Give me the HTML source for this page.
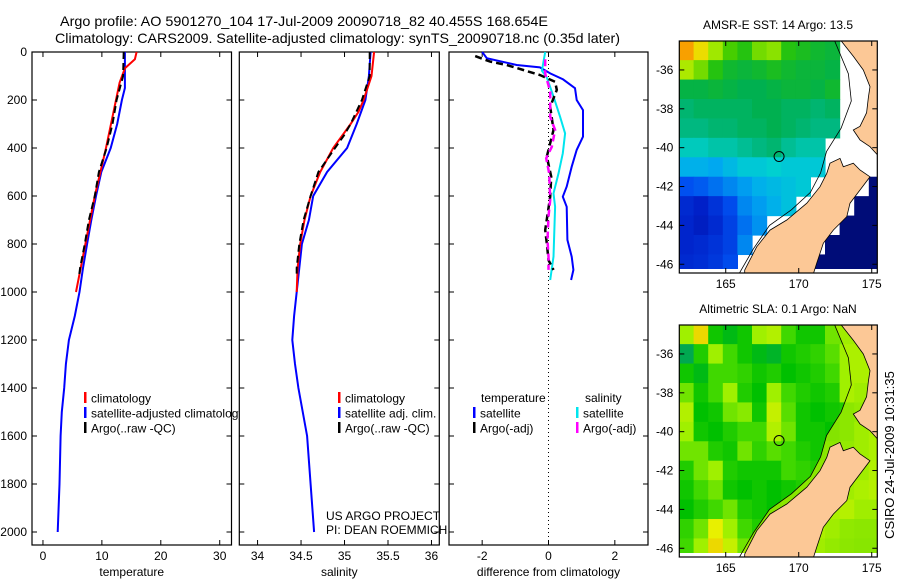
<!DOCTYPE html>
<html><head><meta charset="utf-8"><style>
html,body{margin:0;padding:0;background:#fff}
svg{display:block;font-family:"Liberation Sans",sans-serif}
</style></head><body>
<svg id="fig" width="900" height="580" viewBox="0 0 900 580" xmlns="http://www.w3.org/2000/svg">
<text x="60" y="26" font-size="14" textLength="488" lengthAdjust="spacingAndGlyphs">Argo profile: AO 5901270_104 17-Jul-2009 20090718_82 40.455S 168.654E</text>
<text x="55" y="43" font-size="14" textLength="565" lengthAdjust="spacingAndGlyphs">Climatology: CARS2009. Satellite-adjusted climatology: synTS_20090718.nc (0.35d later)</text>
<g id="plots"></g>
</svg>
<script>
// ---------- profile data ----------
const tClimDepth = [0,30,68,128,200,400,600,800,1000];
const tClimVal   = [15.9,15.6,13.9,13.0,12.4,10.7,8.8,7.2,5.6];
const tArgoDepth = [0,100,200,300,400,500,600,700,800,900,940];
const tArgoVal   = [13.7,13.6,12.5,11.8,10.8,9.5,8.8,7.8,7.1,6.3,6.1];
const tSatDepth  = [0,150,200,300,400,500,600,700,800,900,1000,1100,1200,1300,1400,1500,1600,1800,2000];
const tSatVal    = [13.9,13.9,13.4,12.6,11.5,9.9,9.0,8.2,7.5,6.8,6.2,5.4,4.4,3.9,3.6,3.2,3.0,2.8,2.5];

const sClimDepth = [0,100,200,250,300,400,500,600,700,800,900,1000];
const sClimVal   = [35.34,35.31,35.22,35.16,35.07,34.87,34.72,34.61,34.54,34.49,34.46,34.45];
const sArgoDepth = [0,100,200,300,350,400,500,600,700,800,900,940];
const sArgoVal   = [35.29,35.29,35.20,35.07,34.99,34.89,34.70,34.61,34.53,34.48,34.45,34.45];
const sSatDepth  = [0,100,200,300,400,500,600,700,800,900,1000,1100,1200,1300,1400,1600,1800,2000];
const sSatVal    = [35.30,35.28,35.24,35.14,35.03,34.80,34.64,34.59,34.51,34.48,34.45,34.42,34.40,34.43,34.47,34.57,34.61,34.65];

const dTSatDepth = [0,26,54,64,89,114,151,200,242,353,408,478,561,603,645,783,853,908,950];
const dTSatVal   = [-2.0,-1.86,-0.96,-0.26,0.05,0.44,0.8,0.85,1.04,1.04,0.85,0.7,0.55,0.43,0.55,0.57,0.7,0.75,0.68];
const dSSatDepth = [0,78,106,186,270,339,422,506,589,645,853,950];
const dSSatVal   = [-0.1,-0.2,-0.05,0.15,0.35,0.5,0.43,0.3,0.15,0.2,0.15,0.05];
const dTArgoDepth = [17,40,54,75,96,124,158,228,325,436,519,603,742,797,867,908];
const dTArgoVal   = [-2.21,-1.76,-1.26,-0.76,-0.26,0.2,0.25,0.05,0.15,-0.05,0.08,0.05,-0.1,-0.05,0.0,0.15];
const dSArgoDepth = [30,90,165,270,325,395,443,506,617,686,783,853,908];
const dSArgoVal   = [-0.1,-0.1,0.05,0.05,0.2,0.1,-0.07,0.02,0.05,0.0,-0.03,0.0,0.0];

const depthTicks = [0,200,400,600,800,1000,1200,1400,1600,1800,2000];
const tempTicks = [0,10,20,30];
const salTicks = [34,34.5,35,35.5,36];
const diffTicks = [-2,0,2];

// ---------- map data (1 degree cells, rows from north) ----------
const sstGrid = [
[16.8,16.2,15.4,15.0,14.8,15.2,15.3,14.8,14.7,14.6,14.5,null,null,15.8],
[15.5,15.2,14.8,14.6,14.5,14.6,14.7,14.6,14.5,14.5,14.4,null,null,null],
[14.4,14.4,14.5,14.4,14.3,14.3,14.4,14.5,14.5,14.4,14.6,null,null,null],
[14.1,14.2,14.2,14.2,14.2,14.3,14.3,14.2,14.2,14.1,14.2,null,null,null],
[14.0,14.0,14.1,14.1,14.2,14.2,14.3,14.2,14.1,14.0,14.0,null,null,null],
[13.7,13.7,13.8,13.8,13.9,14.0,14.1,13.9,13.8,13.8,null,null,null,null],
[13.2,13.2,13.1,13.3,13.5,13.5,13.6,13.5,13.5,13.5,null,null,null,null],
[12.3,12.4,12.6,12.8,13.0,13.2,13.3,13.4,13.5,null,null,null,null,10.2],
[11.5,11.3,11.7,12.2,12.8,13.0,13.2,13.4,null,null,null,null,10.2,10.2],
[11.4,11.2,11.5,12.0,12.6,12.9,null,null,null,null,null,10.2,10.2,10.2],
[11.4,11.5,11.7,12.0,12.8,null,null,null,null,null,10.2,10.2,10.2,10.2],
[11.5,11.6,11.8,12.2,null,null,null,null,null,10.2,10.2,10.2,10.2,10.2]
];
const slaGrid = [
[0.12,0.18,0.05,0.03,0.05,0.12,0.13,0.08,0.05,0.05,0.10,0.10,0.12,0.12],
[0.00,0.06,0.12,0.08,0.05,0.03,0.02,0.05,0.06,0.07,0.09,0.12,0.12,0.12],
[0.05,0.03,0.08,0.08,0.07,0.05,0.06,0.04,0.05,0.06,0.08,0.12,0.12,0.12],
[0.10,0.05,0.08,0.12,0.06,0.04,0.12,0.08,0.06,0.05,0.06,0.12,0.10,0.12],
[0.13,0.04,0.05,0.10,0.11,0.05,0.14,0.09,0.05,0.04,0.05,0.06,0.08,0.12],
[0.12,0.05,0.04,0.06,0.08,0.08,0.13,0.10,0.05,0.05,0.04,0.06,0.10,0.12],
[0.10,0.10,0.06,0.05,0.10,0.07,0.09,0.08,0.06,0.05,0.06,0.08,0.10,0.12],
[0.06,0.10,0.12,0.06,0.05,0.05,0.05,0.08,0.07,0.06,0.08,0.09,0.10,0.13],
[0.05,0.08,0.10,0.05,0.04,0.05,0.04,0.05,0.06,0.08,0.10,0.10,0.12,0.14],
[0.04,0.06,0.08,0.10,0.06,0.05,0.04,0.06,0.10,0.10,0.12,0.14,0.10,0.10],
[0.07,0.10,0.16,0.12,0.08,0.06,0.05,0.08,0.10,0.12,0.10,0.07,0.06,0.06],
[0.08,0.12,0.18,0.14,0.10,0.08,0.06,0.06,0.08,0.10,0.08,0.06,0.05,0.05]
];
const argoLon = 168.654, argoLat = -40.455;
const lonTicks = [165,170,175];
const latTicks = [-36,-38,-40,-42,-44,-46];

const NS = 'http://www.w3.org/2000/svg';
const root = document.getElementById('plots');
function mk(tag, attrs, parent){
  const e = document.createElementNS(NS, tag);
  for (const k in attrs) e.setAttribute(k, attrs[k]);
  (parent||root).appendChild(e);
  return e;
}
const Y0 = 52, YS = 0.24, FB = 545;
const yD = d => Y0 + d*YS;

function panel(name, x0, x1, xmin, xmax, xticks, xlabel, showY){
  const xs = v => x0 + (v - xmin)/(xmax - xmin)*(x1 - x0);
  const g = mk('g', {});
  
  
  const r = mk('rect', {x:x0, y:Y0, width:x1-x0, height:FB-Y0, fill:'#fff', stroke:'#000', 'stroke-width':1.2}, g);
  
  
  depthTicks.forEach(d => {
    const y = yD(d);
    mk('line', {x1:x0, x2:x0+5, y1:y, y2:y, stroke:'#000'}, g);
    mk('line', {x1:x1-5, x2:x1, y1:y, y2:y, stroke:'#000'}, g);
    if (showY) {
      const t = mk('text', {x:x0-5, y:y+4, 'font-size':12, 'text-anchor':'end'}, g);
      t.textContent = d;
      
      
    }
  });
  xticks.forEach(v => {
    const x = xs(v);
    mk('line', {x1:x, x2:x, y1:FB, y2:FB-5, stroke:'#000'}, g);
    mk('line', {x1:x, x2:x, y1:Y0, y2:Y0+5, stroke:'#000'}, g);
    const t = mk('text', {x:x, y:FB+15, 'font-size':12, 'text-anchor':'middle'}, g);
    t.textContent = v;
    
    
  });
  const lb = mk('text', {x:(x0+x1)/2, y:576, 'font-size':12, 'text-anchor':'middle'}, g);
  lb.textContent = xlabel;
  
  
  return {g, xs};
}
function series(p, depths, vals, color, dash, name, w){
  const pts = depths.map((d,i) => p.xs(vals[i]).toFixed(1) + ',' + yD(d).toFixed(1)).join(' ');
  const a = {points:pts, fill:'none', stroke:color, 'stroke-width':w||2};
  if (dash) a['stroke-dasharray'] = dash;
  const e = mk('polyline', a, p.g);
  
  
}
function legend(g, x, y, color, label){
  const b = mk('rect', {x:x, y:y-6, width:2.5, height:11, fill:color}, g);
  
  
  if (label) {
    const t = mk('text', {x:x+7, y:y+4.5, 'font-size':12}, g);
    t.textContent = label;
    
    
  }
}
function txt(g, x, y, s, name, anchor){
  const t = mk('text', {x:x, y:y, 'font-size':12, 'text-anchor':anchor||'start'}, g);
  t.textContent = s;
  
  
}

// Panel 1
const p1 = panel('temperature-panel', 32, 231.5, -1.86, 32, tempTicks, 'temperature', true);
series(p1, tSatDepth, tSatVal, '#0000ff', null, 'temp-satellite-line');
series(p1, tClimDepth, tClimVal, '#ff0000', null, 'temp-climatology-line');
series(p1, tArgoDepth, tArgoVal, '#000000', '7,4', 'temp-argo-line');
legend(p1.g, 84, 398, '#ff0000', 'climatology');
legend(p1.g, 84, 413, '#0000ff', 'satellite-adjusted climatology');
legend(p1.g, 84, 428, '#000000', 'Argo(..raw -QC)');

// Panel 2
const p2 = panel('salinity-panel', 239.3, 439.3, 33.79, 36.09, salTicks, 'salinity', false);
series(p2, sSatDepth, sSatVal, '#0000ff', null, 'sal-satellite-line');
series(p2, sClimDepth, sClimVal, '#ff0000', null, 'sal-climatology-line');
series(p2, sArgoDepth, sArgoVal, '#000000', '7,4', 'sal-argo-line');
legend(p2.g, 338, 398, '#ff0000', 'climatology');
legend(p2.g, 338, 413, '#0000ff', 'satellite adj. clim.');
legend(p2.g, 338, 428, '#000000', 'Argo(..raw -QC)');
txt(p2.g, 326, 520, 'US ARGO PROJECT', 'credit-project');
txt(p2.g, 326, 534, 'PI: DEAN ROEMMICH', 'credit-pi');

// Panel 3
const p3 = panel('difference-panel', 449, 648, -3, 3, diffTicks, 'difference from climatology', false);
const zl = mk('line', {x1:p3.xs(0), x2:p3.xs(0), y1:Y0, y2:FB, stroke:'#000', 'stroke-dasharray':'1,3'}, p3.g);


series(p3, dTSatDepth, dTSatVal, '#0000ff', null, 'diff-temp-satellite-line');
series(p3, dSSatDepth, dSSatVal, '#00e5ee', null, 'diff-sal-satellite-line');
series(p3, dTArgoDepth, dTArgoVal, '#000000', '7,4', 'diff-temp-argo-line', 2.5);
series(p3, dSArgoDepth, dSArgoVal, '#ff00ff', '7,4', 'diff-sal-argo-line', 2.5);
txt(p3.g, 481, 402, 'temperature', 'legend-header-temperature');
txt(p3.g, 585, 402, 'salinity', 'legend-header-salinity');
legend(p3.g, 473, 413, '#0000ff', 'satellite');
legend(p3.g, 473, 428, '#000000', 'Argo(-adj)');
legend(p3.g, 576, 413, '#00e5ee', 'satellite');
legend(p3.g, 576, 428, '#ff00ff', 'Argo(-adj)');

// ---------- maps ----------
const MX0 = 679.3, MX1 = 877.3, LON0 = 161.82, LONS = 14.6, LAT0 = -34.51, LATS = 19.43;
const southIsland = [[166.3,-46.5],[166.3,-46.3],[167.12,-45.1],[168.03,-44.24],[169.18,-43.72],[170.55,-42.86],[171.46,-42.01],[171.92,-41.32],[172.14,-40.8],[172.83,-40.55],[173.05,-40.98],[173.74,-40.8],[174.2,-41.15],[174.88,-41.5],[174.2,-42.18],[173.51,-42.86],[173.29,-43.55],[172.37,-44.24],[171.68,-44.92],[171.23,-45.95],[171.0,-46.5]];
const northIsland = [[172.8,-34.4],[173.74,-35.3],[174.42,-36.0],[174.88,-36.86],[174.77,-37.4],[174.65,-38.2],[174.2,-38.9],[173.74,-39.09],[174.2,-39.6],[174.88,-39.95],[175.5,-40.46],[175.5,-34.4]];
const shelfLine = [[165.9,-46.5],[166.9,-45.2],[168.0,-44.0],[169.5,-43.2],[170.8,-42.3],[171.5,-41.3],[171.9,-40.2],[172.9,-39.0],[173.6,-37.6],[173.4,-36.2],[172.4,-34.4]];

function lerpColor(stops, v){
  if (v <= stops[0][0]) return stops[0][1];
  for (let i=1;i<stops.length;i++){
    if (v <= stops[i][0]){
      const [a,ca] = stops[i-1], [b,cb] = stops[i], f = (v-a)/(b-a);
      const h = c => [1,3,5].map(k=>parseInt(c.substr(k,2),16));
      const A=h(ca), B=h(cb);
      return 'rgb(' + A.map((x,j)=>Math.round(x+(B[j]-x)*f)).join(',') + ')';
    }
  }
  return stops[stops.length-1][1];
}
const sstStops = [[10.2,'#000c78'],[11.3,'#0020c8'],[12.3,'#0050f0'],[13.1,'#00a8f0'],[13.6,'#00d0d0'],[14.0,'#00b880'],[14.3,'#00b050'],[14.6,'#10b830'],[14.9,'#30c800'],[15.4,'#a0e800'],[16.0,'#e8f000'],[16.8,'#f8a000']];
const slaStops = [[0.0,'#00a850'],[0.04,'#00c000'],[0.08,'#40d800'],[0.12,'#a0f000'],[0.16,'#e8f000'],[0.2,'#f0c000']];

function drawMap(name, oy, grid, stops, title, coastFill){
  const bottom = oy + 232;
  const mx = lon => MX0 + (lon - LON0)*LONS;
  const my = lat => oy + (LAT0 - lat)*LATS;
  const g = mk('g', {});
  
  
  const cp = mk('clipPath', {id: name + '-clip'}, g);
  mk('rect', {x:MX0, y:oy, width:MX1-MX0, height:bottom-oy}, cp);
  const inner = mk('g', {'clip-path':'url(#' + name + '-clip)'}, g);
  mk('rect', {x:MX0, y:oy, width:MX1-MX0, height:bottom-oy, fill:'#fff'}, inner);
  grid.forEach((row, i) => row.forEach((v, j) => {
    if (v === null) return;
    const c = mk('rect', {x:mx(LON0+j)-0.3, y:my(LAT0-i)-0.3, width:LONS+0.6, height:LATS+0.6, fill:lerpColor(stops, v)}, inner);
    
    
  }));
  const pts = a => a.map(p => mx(p[0]).toFixed(1)+','+my(p[1]).toFixed(1)).join(' ');
  if (coastFill) {
    const band = shelfLine.concat([[176,-34.4],[176,-46.5]]);
    const cf = mk('polygon', {points:pts(band), fill:coastFill, opacity:0.75}, inner);
    
    
  }
  mk('rect', {x:MX0, y:bottom-4, width:MX1-MX0, height:4, fill:'#fff'}, inner);
  const sh = mk('polyline', {points:pts(shelfLine), fill:'none', stroke:'#000', 'stroke-width':0.8}, inner);
  
  
  [southIsland, northIsland].forEach((isl, k) => {
    const p = mk('polygon', {points:pts(isl), fill:'#fcc896', stroke:'#000', 'stroke-width':0.8}, inner);
    
    
  });
  const ci = mk('circle', {cx:mx(argoLon), cy:my(argoLat), r:5, fill:'none', stroke:'#000', 'stroke-width':1}, inner);
  
  
  const fr = mk('rect', {x:MX0, y:oy, width:MX1-MX0, height:bottom-oy, fill:'none', stroke:'#000', 'stroke-width':1.2}, g);
  
  
  lonTicks.forEach(l => {
    const x = mx(l);
    mk('line', {x1:x, x2:x, y1:bottom, y2:bottom-5, stroke:'#000'}, g);
    mk('line', {x1:x, x2:x, y1:oy, y2:oy+5, stroke:'#000'}, g);
    txt(g, x, bottom+15, l, 'lon-tick-label', 'middle');
  });
  latTicks.forEach(l => {
    const y = my(l);
    mk('line', {x1:MX0, x2:MX0+5, y1:y, y2:y, stroke:'#000'}, g);
    mk('line', {x1:MX1-5, x2:MX1, y1:y, y2:y, stroke:'#000'}, g);
    txt(g, MX0-6, y+4, l, 'lat-tick-label', 'end');
  });
  txt(g, 778, oy-12, title, name + '-title', 'middle');
}
drawMap('sst-map', 41, sstGrid, sstStops, 'AMSR-E SST: 14 Argo: 13.5', null);
drawMap('sla-map', 325, slaGrid, slaStops, 'Altimetric SLA: 0.1 Argo: NaN', '#b0f000');

const st = mk('text', {x:0, y:0, 'font-size':13, 'text-anchor':'middle', transform:'translate(894,455) rotate(-90)'});
st.textContent = 'CSIRO 24-Jul-2009 10:31:35';


</script>
</body></html>
